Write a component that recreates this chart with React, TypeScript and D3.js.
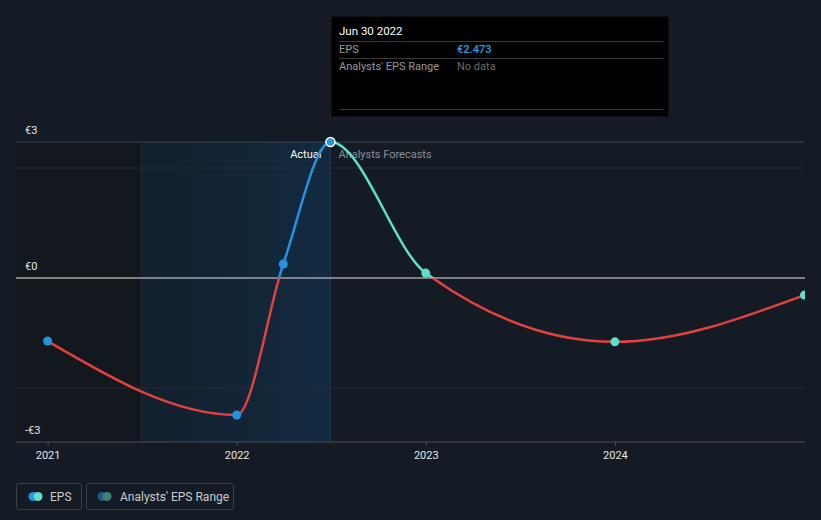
import React from "react";
import * as d3 from "d3";

const W = 821;
const H = 520;

const dates = ["2020-12-31", "2021-12-31", "2022-03-31", "2022-06-30", "2022-12-31", "2023-12-31", "2024-12-31"];
const epsValues = [-1.145, -2.49, 0.255, 2.473, 0.09, -1.16, -0.31];
const actualCount = 4; // first four points are actual
const yTickValues = [2.473, 0, -2.98];
const yTickLabels = ["€3", "€0", "-€3"];
const gridValues = [2, -2];
const xTickYears = [2021, 2022, 2023, 2024];

const parse = d3.timeParse("%Y-%m-%d");

export default function App() {
  const left = 16, right = 805, top = 142, bottom = 442;
  const x = d3.scaleTime().domain([new Date(2020, 9, 31), new Date(2025, 0, 1)]).range([left, right]);
  const y = d3.scaleLinear().domain([-2.98, 2.473]).range([bottom, top]);
  const pts = dates.map((d, i) => ({ date: parse(d) as Date, v: epsValues[i], actual: i < actualCount }));
  const line = d3.line<any>().x((d) => x(d.date)).y((d) => y(d.v)).curve(d3.curveMonotoneX);
  const pathD = line(pts) || "";
  const y0 = y(0);
  const xSplit = x(pts[actualCount - 1].date);
  const xHl = x(new Date(2021, 5, 30));

  const blue = "#2394df";
  const teal = "#5ce0cb";
  const red = "#e2423f";

  return (
    <svg width={W} height={H} style={{ position: "absolute", left: 0, top: 0, background: "#151b24", fontFamily: "Roboto, 'Open Sans', sans-serif" }}>
      <defs>
        <linearGradient id="hl" x1="0" x2="1" y1="0" y2="0">
          <stop offset="0" stopColor="#13202d" />
          <stop offset="1" stopColor="#122a40" />
        </linearGradient>
        <clipPath id="plot"><rect x={left} y={0} width={right - left} height={bottom} /></clipPath>
        <clipPath id="aboveL"><rect x={0} y={0} width={xSplit} height={y0} /></clipPath>
        <clipPath id="aboveR"><rect x={xSplit} y={0} width={W} height={y0} /></clipPath>
        <clipPath id="below"><rect x={0} y={y0} width={W} height={H} /></clipPath>
      </defs>
      <rect x={0} y={0} width={W} height={H} fill="#151b24" />
      <rect x={left} y={top} width={xHl - left} height={bottom - top} fill="#13171e" />
      <rect x={xHl} y={top} width={xSplit - xHl} height={bottom - top} fill="url(#hl)" />
      <line x1={xHl} x2={xHl} y1={top} y2={bottom} stroke="#1a2a3a" strokeWidth={1} />
      <line x1={xSplit} x2={xSplit} y1={top} y2={bottom} stroke="#1f3650" strokeWidth={1} />

      {gridValues.map((g) => (
        <line key={g} x1={left} x2={right} y1={y(g)} y2={y(g)} stroke="#252c36" strokeWidth={1} />
      ))}
      <line x1={left} x2={right} y1={top} y2={top} stroke="#3d444e" strokeWidth={1} />
      <line x1={left} x2={right} y1={y0} y2={y0} stroke="#a3a3a3" strokeWidth={1.5} />
      <line x1={left} x2={right} y1={bottom} y2={bottom} stroke="#4a4f58" strokeWidth={1} />

      {xTickYears.map((yr) => {
        const xx = x(new Date(yr, 0, 1));
        return (
          <g key={yr}>
            <line x1={xx} x2={xx} y1={bottom} y2={bottom + 4} stroke="#4a4f58" />
            <text x={xx} y={459} fill="#e6e6e6" fontSize={11} textAnchor="middle">{yr}</text>
          </g>
        );
      })}
      {yTickValues.map((v, i) => (
        <text key={i} x={25} y={y(v) - 8} fill="#e6e6e6" fontSize={11}>{yTickLabels[i]}</text>
      ))}

      <text x={xSplit - 9} y={158} fill="#ffffff" fontSize={11} textAnchor="end">Actual</text>
      <text x={xSplit + 8} y={158} fill="#8a8f96" fontSize={11}>Analysts Forecasts</text>

      <g clipPath="url(#plot)">
        <g clipPath="url(#below)"><path d={pathD} fill="none" stroke={red} strokeWidth={2.5} /></g>
        <g clipPath="url(#aboveL)"><path d={pathD} fill="none" stroke={blue} strokeWidth={2.5} /></g>
        <g clipPath="url(#aboveR)"><path d={pathD} fill="none" stroke={teal} strokeWidth={2.5} /></g>
        {pts.map((p, i) => (
          <circle key={i} cx={x(p.date)} cy={y(p.v)} r={4.5}
            fill={p.actual ? blue : teal}
            stroke={i === actualCount - 1 ? "#ffffff" : "none"} strokeWidth={1.5} />
        ))}
      </g>

      <g>
        <rect x={xSplit + 0.5} y={16} width={338} height={101} fill="#000000" stroke="#1b1f26" />
        <text x={339} y={35} fill="#ffffff" fontSize={11.5}>Jun 30 2022</text>
        <line x1={339} x2={663} y1={41.5} y2={41.5} stroke="#3a3a3a" />
        <text x={339} y={53} fill="#9a9a9a" fontSize={11}>EPS</text>
        <text x={457} y={53} fill={blue} fontSize={11} fontWeight={600}>€2.473</text>
        <line x1={339} x2={663} y1={58.5} y2={58.5} stroke="#3a3a3a" />
        <text x={339} y={70} fill="#9a9a9a" fontSize={11}>Analysts' EPS Range</text>
        <text x={457} y={70} fill="#6b6b6b" fontSize={11}>No data</text>
        <line x1={339} x2={663} y1={109.5} y2={109.5} stroke="#3a3a3a" />
      </g>

      <g>
        <rect x={16.5} y={483.5} width={65} height={26} rx={2} fill="none" stroke="#3a404a" />
        <circle cx={33} cy={496.5} r={4.5} fill={blue} />
        <circle cx={38} cy={496.5} r={4.5} fill={teal} />
        <text x={50} y={500.5} fill="#c9cbcf" fontSize={12}>EPS</text>
        <rect x={86.5} y={483.5} width={147} height={26} rx={2} fill="none" stroke="#3a404a" />
        <circle cx={102} cy={496.5} r={4.5} fill="#1f5a84" />
        <circle cx={107} cy={496.5} r={4.5} fill="#3f7f7c" />
        <text x={120} y={500.5} fill="#c9cbcf" fontSize={12}>Analysts' EPS Range</text>
      </g>
    </svg>
  );
}
